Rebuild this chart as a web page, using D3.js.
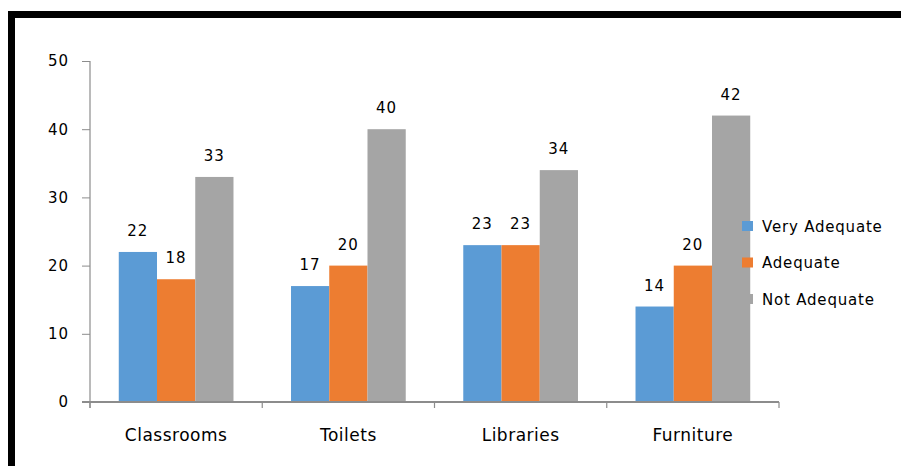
<!DOCTYPE html>
<html>
<head>
<meta charset="utf-8">
<script src="https://cdn.jsdelivr.net/npm/d3@7"></script>
<style>
  html, body { margin: 0; padding: 0; background: #fff; }
  svg { display: block; font-family: "DejaVu Sans", sans-serif; }
</style>
</head>
<body>
<svg id="chart" width="901" height="466"></svg>
<script>
const categories = ["Classrooms", "Toilets", "Libraries", "Furniture"];
const seriesNames = ["Very Adequate", "Adequate", "Not Adequate"];
const veryAdequate = [22, 17, 23, 14];
const adequate = [18, 20, 23, 20];
const notAdequate = [33, 40, 34, 42];
const yTicks = [0, 10, 20, 30, 40, 50];
const colors = ["#5B9BD5", "#ED7D31", "#A5A5A5"];

const seriesValues = [veryAdequate, adequate, notAdequate];
const svg = d3.select("#chart");

// frame border (top and left thick black lines)
svg.append("rect").attr("x", 8).attr("y", 11).attr("width", 893).attr("height", 7).attr("fill", "#000");
svg.append("rect").attr("x", 8).attr("y", 11).attr("width", 7).attr("height", 455).attr("fill", "#000");

const x0 = d3.scaleBand().domain(categories).range([90, 779]).paddingInner(0).paddingOuter(0);
const groupPad = 0.167;
const x1 = d3.scaleBand().domain(seriesNames).range([x0.bandwidth() * groupPad, x0.bandwidth() * (1 - groupPad)]);
const y = d3.scaleLinear().domain([0, 50]).range([402, 61]);

// y axis
const yAxis = d3.axisLeft(y).tickValues(yTicks).tickSize(8).tickPadding(13);
const gy = svg.append("g").attr("transform", "translate(90,0)").call(yAxis);
gy.select(".domain").remove();
gy.selectAll(".tick line").attr("stroke", "#8c8c8c");
gy.selectAll(".tick text").attr("fill", "#000").attr("font-size", 15).attr("letter-spacing", 1)
  .attr("font-family", "DejaVu Sans, sans-serif");
svg.append("line").attr("x1", 90).attr("x2", 90).attr("y1", y(50)).attr("y2", 408)
  .attr("stroke", "#8c8c8c").attr("stroke-width", 1.2);

// bars
const groups = svg.append("g").selectAll("g").data(categories).join("g")
  .attr("transform", d => `translate(${x0(d)},0)`);
groups.selectAll("rect").data((c, i) => seriesNames.map((s, j) => ({s, j, v: seriesValues[j][i]})))
  .join("rect")
  .attr("x", d => x1(d.s)).attr("y", d => y(d.v))
  .attr("width", x1.bandwidth()).attr("height", d => y(0) - y(d.v))
  .attr("fill", d => colors[d.j]);
groups.selectAll("text").data((c, i) => seriesNames.map((s, j) => ({s, j, v: seriesValues[j][i]})))
  .join("text")
  .attr("x", d => x1(d.s) + x1.bandwidth() / 2).attr("y", d => y(d.v) - 16)
  .attr("text-anchor", "middle").attr("font-size", 15).attr("letter-spacing", 1)
  .attr("fill", "#000").text(d => d.v);

// x axis
const xAxis = d3.axisBottom(x0).tickSize(0).tickPadding(0);
svg.append("line").attr("x1", 82).attr("x2", 779).attr("y1", 402).attr("y2", 402)
  .attr("stroke", "#8c8c8c").attr("stroke-width", 2);
const bounds = categories.map(c => x0(c)).concat([x0(categories[categories.length - 1]) + x0.bandwidth()]);
svg.append("g").selectAll("line").data(bounds).join("line")
  .attr("x1", d => d).attr("x2", d => d).attr("y1", 402).attr("y2", 408)
  .attr("stroke", "#8c8c8c").attr("stroke-width", 1.2);
const gx = svg.append("g").attr("transform", "translate(0,0)").call(xAxis);
gx.select(".domain").remove();
gx.selectAll(".tick line").remove();
gx.selectAll(".tick text").attr("y", 441).attr("dy", null).attr("fill", "#000")
  .attr("font-size", 17).attr("letter-spacing", 0.5).attr("font-family", "DejaVu Sans, sans-serif");

// legend
const legend = svg.append("g").selectAll("g").data(seriesNames).join("g")
  .attr("transform", (d, i) => `translate(742,${226 + i * 36.5})`);
legend.append("rect").attr("x", 0).attr("y", -5).attr("width", 11).attr("height", 10)
  .attr("fill", (d, i) => colors[i]);
legend.append("text").attr("x", 20).attr("y", 5.5).attr("font-size", 15).attr("letter-spacing", 0.8)
  .attr("fill", "#000").text(d => d);
</script>
</body>
</html>
